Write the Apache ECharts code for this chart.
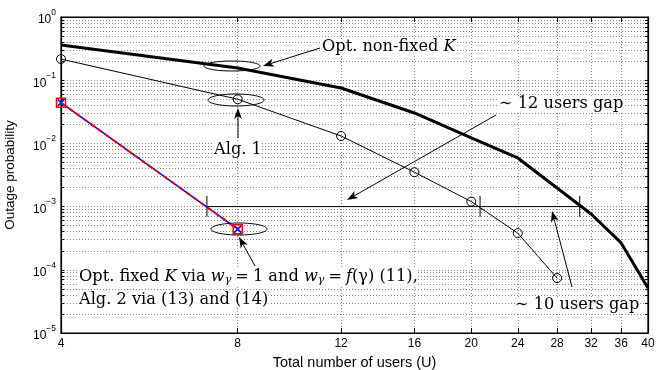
<!DOCTYPE html>
<html>
<head>
<meta charset="utf-8">
<script src="https://cdn.jsdelivr.net/npm/echarts@6/dist/echarts.min.js"></script>
<style>
  html, body { margin: 0; padding: 0; background: #fff; }
  #chart { width: 672px; height: 370px; }
</style>
</head>
<body>
<div id="chart"></div>
<script>
// x ticks (users), log axis
var users = [4, 8, 12, 16, 20, 24, 28, 32, 36, 40];
// Opt. non-fixed K (thick black)
var optNonFixed = [0.360, 0.156, 0.0753, 0.0303, 0.0122, 0.00588, 0.00197, 0.000764, 0.000266, 0.0000515];
// Alg. 1 (circles)
var alg1Users = [4, 8, 12, 16, 20, 24, 28];
var alg1 = [0.216, 0.050, 0.0131, 0.0035, 0.0012, 0.00038, 0.000074];
// Opt. fixed K / Alg. 2
var fixedUsers = [4, 8];
var fixedK = [0.044, 0.00044];
// gap marker at 1e-3
var gapLevel = 0.001;
var gapUsers = [7.09, 20.7, 30.6];
var gapTick = [0.00148, 0.00069];

var yMajor = [1e-5, 1e-4, 1e-3, 1e-2, 1e-1, 1];
var yMinor = [];
for (var k = -5; k < 0; k++) {
    for (var m = 1; m < 10; m++) {
        yMinor.push(+(m * Math.pow(10, k)).toPrecision(3));
    }
}
yMinor.push(1);

var serif = '"DejaVu Serif", "Liberation Serif", serif';
var sans = '"Liberation Sans", Arial, sans-serif';

function pairs(xs, ys) {
    return xs.map(function (x, i) { return [x, ys[i]]; });
}

var chart = echarts.init(document.getElementById('chart'));

var gridStyle = { type: [1, 2], color: '#8a8a8a', width: 1 };

var xBase = {
    type: 'log', logBase: 10, min: 4, max: 40,
    axisLine: { show: true, onZero: false, lineStyle: { color: '#000', width: 1.2 } },
    axisTick: { show: true, inside: true, length: 5, customValues: users, lineStyle: { color: '#000' } },
    axisLabel: { show: false }
};
var yBase = {
    type: 'log', logBase: 10, min: 1e-5, max: 1,
    axisLine: { show: true, onZero: false, lineStyle: { color: '#000', width: 1.2 } },
    axisTick: { show: true, inside: true, length: 3, customValues: yMinor, lineStyle: { color: '#000' } },
    axisLabel: { show: false }
};

var option = {
    animation: false,
    backgroundColor: '#fff',
    grid: {
        left: 61, right: 24, top: 17, bottom: 37,
        outerBoundsMode: 'none', containLabel: false,
        show: true, borderColor: '#000', borderWidth: 1.2, backgroundColor: 'rgba(0,0,0,0)'
    },
    xAxis: [
        echarts.util.merge({
            position: 'bottom',
            name: 'Total number of users (U)',
            nameLocation: 'middle', nameGap: 22,
            nameTextStyle: { fontFamily: sans, fontSize: 14.5, color: '#000' },
            axisLabel: { show: true, customValues: users, color: '#000', fontFamily: sans, fontSize: 12, margin: 5 },
            splitLine: { show: true, lineStyle: gridStyle }
        }, echarts.util.clone(xBase), false),
        echarts.util.merge({ position: 'top', splitLine: { show: false } }, echarts.util.clone(xBase), false)
    ],
    yAxis: [
        echarts.util.merge({
            position: 'left',
            name: 'Outage probability',
            nameLocation: 'middle', nameGap: 44, nameRotate: 90,
            nameTextStyle: { fontFamily: sans, fontSize: 13.5, color: '#000' },
            axisLabel: {
                show: true, customValues: yMajor, color: '#000', margin: 5,
                formatter: function (v) {
                    var e = Math.round(Math.log10(v));
                    return '{b|10}{s|' + (e === 0 ? '0' : '\u2212' + (-e)) + '}';
                },
                rich: {
                    b: { fontFamily: sans, fontSize: 12, color: '#000', verticalAlign: 'bottom' },
                    s: { fontFamily: sans, fontSize: 8.5, color: '#000', verticalAlign: 'top', padding: [0, 0, 9, 0] }
                }
            },
            splitLine: { show: true, lineStyle: gridStyle }
        }, echarts.util.clone(yBase), false),
        echarts.util.merge({ position: 'right', splitLine: { show: false } }, echarts.util.clone(yBase), false)
    ],
    series: [
        {
            name: 'Opt. non-fixed K', type: 'line', data: pairs(users, optNonFixed),
            showSymbol: false, symbol: 'none',
            lineStyle: { color: '#000', width: 3 }, z: 4
        },
        {
            name: 'Alg. 1', type: 'line', data: pairs(alg1Users, alg1),
            symbol: 'circle', symbolSize: 9,
            itemStyle: { color: 'rgba(0,0,0,0)', borderColor: '#000', borderWidth: 1 },
            lineStyle: { color: '#000', width: 1 }, z: 4
        },
        {
            name: 'Fixed blue', type: 'line', data: pairs(fixedUsers, fixedK),
            symbol: 'path://M0,0L10,10M10,0L0,10', symbolSize: 7,
            itemStyle: { color: 'rgba(0,0,0,0)', borderColor: '#0000ff', borderWidth: 1.5 },
            lineStyle: { color: '#0000ff', width: 1.5 }, z: 5
        },
        {
            name: 'Fixed red', type: 'line', data: pairs(fixedUsers, fixedK),
            symbol: 'rect', symbolSize: 9,
            itemStyle: { color: 'rgba(0,0,0,0)', borderColor: '#ff0000', borderWidth: 1.5 },
            lineStyle: { color: '#ff0000', width: 2, type: [5, 4] }, z: 6
        },
        {
            name: 'gap', type: 'line', data: [[gapUsers[0], gapLevel], [gapUsers[2], gapLevel]],
            symbol: 'none', lineStyle: { color: '#000', width: 1 }, z: 3
        }
    ].concat(gapUsers.map(function (u) {
        return {
            type: 'line', data: [[u, gapTick[0]], [u, gapTick[1]]],
            symbol: 'none', lineStyle: { color: '#000', width: 1 }, z: 3
        };
    }))
};

chart.setOption(option);

// annotations (pixel positions)
function arrow(x1, y1, x2, y2) {
    var dx = x2 - x1, dy = y2 - y1;
    var len = Math.sqrt(dx * dx + dy * dy);
    var ux = dx / len, uy = dy / len;
    var px = -uy, py = ux;
    var L = 11, W = 4, N = 8;
    var bx = x2 - ux * L, by = y2 - uy * L;
    var nx = x2 - ux * N, ny = y2 - uy * N;
    return [
        { type: 'line', shape: { x1: x1, y1: y1, x2: nx, y2: ny }, style: { stroke: '#000', lineWidth: 1 }, z: 10 },
        { type: 'polygon', shape: { points: [[x2, y2], [bx + px * W, by + py * W], [nx, ny], [bx - px * W, by - py * W]] },
          style: { fill: '#000' }, z: 10 }
    ];
}
function ellipse(cx, cy, rx, ry) {
    return { type: 'ellipse', shape: { cx: cx, cy: cy, rx: rx, ry: ry }, style: { fill: 'none', stroke: '#000', lineWidth: 1 }, z: 10 };
}
function label(x, y, parts, align) {
    return {
        type: 'text', x: x, y: y, z: 11,
        style: {
            text: parts, align: align || 'left', verticalAlign: 'middle',
            fontFamily: serif, fontSize: 16.2, fill: '#000', backgroundColor: '#fff',
            rich: {
                i: { fontFamily: serif, fontSize: 16.2, fontStyle: 'italic' },
                sub: { fontFamily: serif, fontSize: 11, fontStyle: 'italic', padding: [7, 0, 0, 0] }
            }
        }
    };
}

var sp = '\u2005';
var g = [];
g.push(ellipse(232, 66, 28, 5));
g.push(ellipse(236, 100, 28, 6));
g.push(ellipse(239, 229, 28, 6));
g = g.concat(arrow(320, 48, 263, 66));
g = g.concat(arrow(238, 138, 238, 108));
g = g.concat(arrow(496, 115, 347, 200));
g = g.concat(arrow(572, 287, 552, 211));
g = g.concat(arrow(255, 266, 239, 237));
g.push(label(322, 47, 'Opt. non-fixed {i|K}'));
g.push(label(238, 150, 'Alg. 1', 'center'));
g.push(label(499, 104, '\u223C 12 users gap'));
g.push(label(515, 305, '\u223C 10 users gap'));
g.push(label(79, 277, 'Opt. fixed {i|K} via {i|w}{sub|\u03B3}' + sp + '=' + sp + '1 and {i|w}{sub|\u03B3}' + sp + '=' + sp + '{i|f}(\u03B3) (11),'));
g.push(label(79, 300, 'Alg. 2 via (13) and (14)'));

chart.setOption({ graphic: g });
</script>
</body>
</html>
